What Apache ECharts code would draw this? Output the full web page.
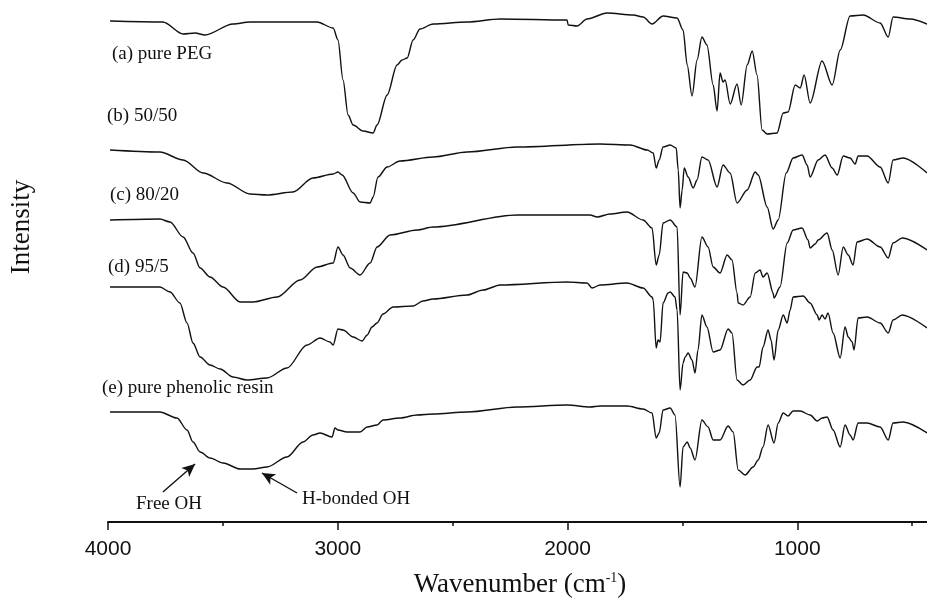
<!DOCTYPE html>
<html>
<head>
<meta charset="utf-8">
<script src="https://cdn.jsdelivr.net/npm/echarts/dist/echarts.min.js"></script>
<style>
	html, body { margin: 0; padding: 0; background: #fff; }
	#ftir { width: 927px; height: 609px; }
</style>
</head>
<body>
<div id="ftir"></div>
<script>
// [wavenumber (cm-1), intensity], offsets included
var pegA = [[3991,501],[3761,500],[3673,488],[3621,489],[3578,487],[3456,498],[3382,500],[3090,500],[3020,494],[2999,482],[2977,442],[2955,407],[2933,397],[2890,391],[2846,389],[2829,397],[2785,427],[2742,457],[2720,462],[2698,464],[2672,482],[2642,493],[2585,498],[2437,500],[2293,503],[2002,502],[1997,497],[1958,496],[1915,503],[1828,509],[1714,507],[1671,505],[1632,498],[1584,506],[1523,504],[1497,492],[1479,457],[1458,426],[1436,462],[1415,485],[1393,477],[1366,437],[1349,411],[1336,449],[1323,440],[1314,442],[1292,418],[1262,438],[1244,417],[1218,457],[1196,471],[1175,447],[1153,392],[1131,388],[1088,389],[1061,409],[1040,410],[1009,437],[987,434],[970,447],[944,419],[892,461],[848,437],[813,472],[770,506],[713,507],[639,499],[604,485],[583,505],[509,503],[435,498]];

var blend5050 = [[3991,372],[3774,370],[3673,362],[3586,349],[3482,339],[3382,328],[3308,327],[3195,330],[3108,344],[3020,348],[2999,350],[2981,347],[2933,329],[2903,320],[2859,319],[2846,325],[2825,345],[2785,355],[2729,361],[2585,365],[2437,370],[2219,375],[1858,378],[1727,377],[1653,372],[1627,369],[1614,354],[1601,362],[1584,375],[1553,377],[1527,374],[1518,352],[1510,314],[1501,332],[1492,354],[1475,345],[1453,334],[1436,342],[1415,365],[1388,362],[1349,335],[1323,357],[1292,349],[1262,319],[1218,332],[1183,350],[1170,347],[1131,315],[1105,293],[1083,302],[1048,349],[1018,364],[979,367],[957,357],[944,345],[909,362],[879,367],[848,354],[826,347],[800,366],[770,364],[748,358],[735,366],[696,366],[639,355],[604,339],[583,362],[539,364],[435,349]];

var blend8020 = [[3991,302],[3774,303],[3730,300],[3673,285],[3630,269],[3599,254],[3556,245],[3499,235],[3425,220],[3369,220],[3264,225],[3164,242],[3090,255],[3020,259],[2999,275],[2977,267],[2946,254],[2903,247],[2859,259],[2829,275],[2772,287],[2655,292],[2585,295],[2219,307],[2150,307],[1902,307],[1871,305],[1815,308],[1741,310],[1671,302],[1632,294],[1614,257],[1601,267],[1584,299],[1553,302],[1523,295],[1510,207],[1497,250],[1479,249],[1466,244],[1445,235],[1415,285],[1388,275],[1366,255],[1336,249],[1305,267],[1284,262],[1262,229],[1257,219],[1236,217],[1205,225],[1183,249],[1162,252],[1149,245],[1131,249],[1105,229],[1101,224],[1075,235],[1044,279],[1018,292],[979,294],[953,282],[944,274],[922,278],[909,282],[870,289],[848,272],[822,247],[800,275],[778,267],[757,257],[740,280],[696,283],[639,275],[604,264],[583,279],[543,284],[435,272]];

var blend955 = [[3991,235],[3774,235],[3730,230],[3687,219],[3656,199],[3630,179],[3599,165],[3556,157],[3512,153],[3456,145],[3395,142],[3308,144],[3221,154],[3134,177],[3077,184],[3034,180],[3020,177],[2999,193],[2977,192],[2933,185],[2894,181],[2872,187],[2851,195],[2829,199],[2803,208],[2759,215],[2672,216],[2629,221],[2585,223],[2437,227],[2367,232],[2293,237],[2002,240],[1915,239],[1893,234],[1858,237],[1741,239],[1671,234],[1632,225],[1627,222],[1614,174],[1606,182],[1597,180],[1584,219],[1562,229],[1553,230],[1532,225],[1523,212],[1510,132],[1497,159],[1488,165],[1475,169],[1458,162],[1445,149],[1432,172],[1415,207],[1393,195],[1366,170],[1336,172],[1301,193],[1284,189],[1262,142],[1236,137],[1205,142],[1175,155],[1166,155],[1149,175],[1127,192],[1114,182],[1101,162],[1083,192],[1061,207],[1044,199],[1031,212],[1018,225],[974,226],[944,219],[913,207],[905,202],[892,207],[879,203],[866,209],[844,189],[813,164],[792,195],[778,185],[761,180],[753,172],[735,204],[696,205],[639,199],[604,189],[583,202],[543,207],[435,194]];

var phenolic = [[3991,110],[3774,110],[3700,104],[3656,92],[3630,80],[3599,70],[3556,64],[3499,59],[3425,53],[3369,53],[3308,55],[3221,65],[3151,80],[3108,87],[3077,89],[3025,85],[3012,94],[2999,92],[2960,90],[2903,90],[2872,95],[2829,97],[2803,102],[2729,104],[2655,107],[2585,108],[2437,110],[2219,115],[2002,117],[1902,115],[1858,116],[1741,116],[1671,113],[1632,109],[1614,84],[1601,89],[1584,112],[1553,114],[1532,107],[1510,35],[1497,75],[1479,80],[1466,74],[1445,62],[1415,102],[1388,95],[1366,82],[1336,82],[1301,96],[1279,90],[1257,52],[1227,47],[1192,55],[1170,62],[1149,75],[1127,97],[1101,79],[1083,99],[1061,109],[1040,106],[1018,111],[987,111],[944,107],[913,101],[892,104],[870,105],[844,92],[813,75],[792,97],[770,87],[757,82],[735,99],[696,99],[639,95],[604,82],[583,99],[539,100],[435,89]];

var curveNames = ['(a) pure PEG', '(b) 50/50', '(c) 80/20', '(d) 95/5', '(e) pure phenolic resin'];
var tickLabels = [4000, 3000, 2000, 1000];

// arrows: [tail, head] in [wavenumber, intensity]
var freeOH = [[3761,30],[3621,58]];
var hBondOH = [[3177,29],[3330,49]];

var serif = 'Liberation Serif, Times New Roman, serif';

var myChart = echarts.init(document.getElementById('ftir'));

function spectrum(name, data, extra) {
	var s = {
		name : name,
		type : 'line',
		data : data,
		showSymbol : false,
		smooth : 0.3,
		smoothMonotone : 'x',
		lineStyle : { color : '#111', width : 1.4 },
		silent : true
	};
	if (extra) s.markLine = extra;
	return s;
}

var arrows = {
	silent : true,
	symbol : ['none', 'arrow'],
	symbolSize : [9, 13],
	lineStyle : { color : '#111', width : 1.4, type : 'solid' },
	label : { show : false },
	data : [
		[{ coord : freeOH[0] }, { coord : freeOH[1] }],
		[{ coord : hBondOH[0] }, { coord : hBondOH[1] }]
	]
};

function label(text, x, y, size) {
	return {
		type : 'text', left : x, top : y - size / 2 - 1,
		style : { text : text, fontFamily : serif, fontSize : size, fill : '#111' }
	};
}

var option = {
	animation : false,
	// the axis runs on to 0 cm-1, past the right edge of the picture
	grid : { left : 108, top : 2, width : 919, height : 520, outerBoundsMode : 'none', containLabel : false },
	xAxis : {
		type : 'value',
		inverse : true,
		min : 0,
		max : 4000,
		interval : 1000,
		axisLine : { lineStyle : { color : '#111', width : 2 } },
		axisTick : { length : 8, lineStyle : { color : '#111', width : 1.5 } },
		minorTick : { show : true, splitNumber : 2, length : 4, lineStyle : { color : '#111', width : 1.5 } },
		splitLine : { show : false },
		axisLabel : {
			margin : 17,
			fontFamily : 'Liberation Sans, Arial, sans-serif',
			fontSize : 21,
			color : '#111',
			formatter : function(v) { return tickLabels.indexOf(v) >= 0 ? String(v) : ''; }
		}
	},
	yAxis : { type : 'value', min : 0, max : 520, show : false },
	series : [
		spectrum(curveNames[0], pegA),
		spectrum(curveNames[1], blend5050),
		spectrum(curveNames[2], blend8020),
		spectrum(curveNames[3], blend955),
		spectrum(curveNames[4], phenolic, arrows)
	],
	graphic : [
		label(curveNames[0], 112, 55, 19),
		label(curveNames[1], 107, 117, 19),
		label(curveNames[2], 110, 196, 19),
		label(curveNames[3], 108, 268, 19),
		label(curveNames[4], 102, 389, 19),
		label('Free OH', 136, 505, 19),
		label('H-bonded OH', 302, 500, 19),
		{
			type : 'text', x : 22, y : 227, rotation : Math.PI / 2,
			style : { text : 'Intensity', fontFamily : serif, fontSize : 27, fill : '#111',
				align : 'center', verticalAlign : 'middle' }
		},
		{
			type : 'text', x : 520, y : 571,
			style : {
				text : '{t|Wavenumber (cm}{s|-1}{t|)}',
				align : 'center', verticalAlign : 'top',
				rich : {
					t : { fontFamily : serif, fontSize : 27, lineHeight : 27, padding : [13, 0, 0, 0], verticalAlign : 'bottom', fill : '#111' },
					s : { fontFamily : serif, fontSize : 14, lineHeight : 14, verticalAlign : 'top', fill : '#111' }
				}
			}
		}
	]
};

myChart.setOption(option);
</script>
</body>
</html>
